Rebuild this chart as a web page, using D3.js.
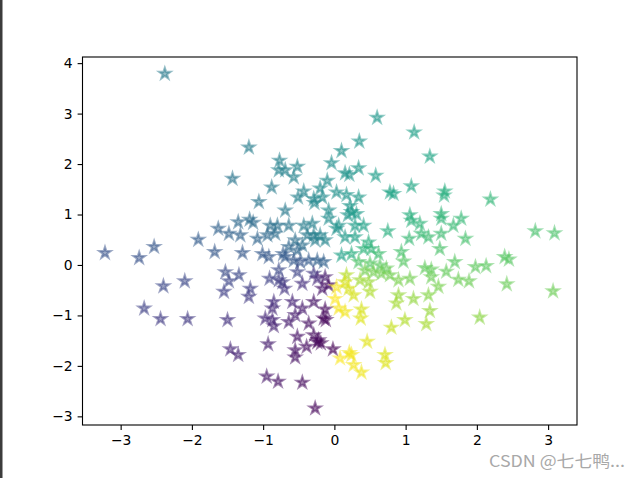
<!DOCTYPE html>
<html><head><meta charset="utf-8">
<script src="https://cdn.jsdelivr.net/npm/d3@7"></script>
<style>body{margin:0;background:#fff}svg{display:block}</style>
</head><body>
<script>
const xs = [-2.38,-1.20,-1.43,-0.77,-0.78,-0.69,-0.52,-0.57,-0.04,-0.10,0.60,1.12,0.35,0.10,1.34,0.15,0.21,0.34,0.58,
-3.22,-2.74,-2.53,-1.91,-2.40,-2.10,-2.67,-2.44,-2.06,
2.19,1.78,1.84,2.82,3.09,1.98,2.13,2.39,2.45,1.74,1.89,2.42,3.07,2.04,
0.06,0.15,0.38,0.37,1.34,0.99,0.80,1.29,0.46,-0.02,0.21,0.24,0.08,0.27,0.38,0.71,0.72,
-1.50,-0.97,-0.87,-0.85,-0.87,-0.64,-0.55,-0.45,-0.36,-0.15,-0.13,-0.12,
-0.52,-0.39,-0.55,-0.55,-0.29,-0.22,-0.24,-0.19,-0.93,-1.46,-1.35,-0.95,-0.79,-0.45,-0.27,
-0.88,-0.43,-0.20,-0.51,-0.29,-0.17,-0.28,-1.06,-0.69,-0.08,-1.63,-1.48,-1.35,-1.32,-1.19,-1.14,
-0.90,-0.80,-0.83,-0.94,-1.08,-0.64,-0.43,-0.31,-0.38,-0.29,-0.27,-0.13,-0.20,-0.08,-0.55,-0.45,
-0.64,-0.72,-0.69,-1.01,-0.92,-1.29,-1.68,-0.52,-0.36,-0.48,-0.57,-0.24,-0.15,-0.78,-0.78,-0.52,
-0.29,-0.24,-0.13,-0.08,-0.17,-1.53,-1.48,-1.34,-1.55,-1.18,-1.20,-0.91,-0.73,-0.70,-0.45,-0.85,
-0.59,-0.29,
0.17,0.34,0.78,0.83,1.08,1.55,1.54,0.22,0.24,0.19,0.31,1.06,1.08,1.20,1.50,1.50,1.67,0.75,1.22,
1.32,1.50,1.05,1.48,0.94,0.97,1.69,1.27,1.36,1.57,1.36,1.06,1.46,1.32,1.11,0.90,0.87,
0.03,0.06,0.29,0.41,0.15,0.29,0.48,0.52,0.41,0.62,0.24,0.10,0.34,0.50,0.64,0.73,0.43,0.55,0.66,
0.78,0.17,0.36,0.48,0.90,0.15,0.03,0.20,0.50,0.01,0.27,0.03];
const ys = [3.79,2.33,1.71,2.07,1.88,1.88,1.95,1.74,2.02,1.67,2.92,2.63,2.45,2.26,2.15,1.82,1.79,1.92,1.77,
0.24,0.14,0.36,0.50,-0.42,-0.32,-0.86,-1.07,-1.07,
1.30,0.92,0.52,0.67,0.63,-0.04,-0.02,0.16,0.11,-0.29,-0.32,-0.38,-0.52,-1.04,
-0.86,-0.93,-0.88,-1.06,-0.91,-1.09,-1.24,-1.17,-1.52,-1.67,-1.74,-1.78,-1.85,-1.98,-2.13,-1.78,-1.94,
-1.09,-1.06,-1.09,-1.21,-0.86,-1.13,-0.99,-0.86,-1.16,-1.06,-0.88,-1.09,
-1.42,-1.62,-1.69,-1.83,-1.39,-1.49,-1.53,-1.55,-1.57,-1.67,-1.78,-2.21,-2.31,-2.33,-2.84,
1.54,1.46,1.52,1.34,1.31,1.34,1.23,1.25,1.08,1.08,0.72,0.62,0.85,0.59,0.90,0.84,
0.78,0.78,0.62,0.59,0.52,0.78,0.78,0.82,0.59,0.59,0.49,0.49,0.59,0.92,0.49,0.39,
0.36,0.22,0.16,0.22,0.16,0.24,0.26,0.29,0.09,0.06,0.09,0.09,0.06,-0.10,-0.30,-0.14,
-0.17,-0.27,-0.24,-0.40,-0.47,-0.14,-0.32,-0.20,-0.53,-0.47,-0.63,-0.27,-0.34,-0.47,-0.37,-0.73,
-0.73,-0.73,
1.39,1.34,1.44,1.41,1.56,1.46,1.38,1.17,1.05,0.99,1.01,0.99,0.88,0.82,1.01,0.92,0.78,0.67,0.62,
0.55,0.62,0.52,0.32,0.26,0.07,0.06,-0.06,-0.09,-0.13,-0.24,-0.27,-0.43,-0.60,-0.67,-0.60,-0.76,
1.44,0.78,0.78,0.78,0.55,0.55,0.45,0.32,0.32,0.22,0.22,0.19,0.06,0.03,-0.01,-0.07,-0.11,-0.14,-0.17,
-0.20,-0.20,-0.30,-0.34,-0.30,-0.34,-0.44,-0.47,-0.53,-0.67,-0.60,0.72];
const xTicks = [-3,-2,-1,0,1,2,3];
const yTicks = [-3,-2,-1,0,1,2,3,4];
const watermark = "CSDN @七七鸭...";

const W = 641, H = 478;
const L = 82.5, R = 577, T = 57, B = 425;
const svg = d3.select("body").append("svg").attr("width", W).attr("height", H);
svg.append("rect").attr("width", W).attr("height", H).attr("fill", "#fff");
svg.append("rect").attr("x", 0).attr("y", 0).attr("width", 2.5).attr("height", H).attr("fill", "#3c3c3c");

const pts = xs.map((x, i) => ({x, y: ys[i], t: Math.atan2(x, ys[i])}));
const pad = (e) => { const d = e[1]-e[0]; return [e[0]-0.05*d, e[1]+0.05*d]; };
const x = d3.scaleLinear().domain(pad(d3.extent(xs))).range([L, R]);
const y = d3.scaleLinear().domain(pad(d3.extent(ys))).range([B, T]);
const c = d3.scaleSequential(d3.interpolateViridis).domain(d3.extent(pts, d => d.t));

const star = d3.symbol().type(d3.symbolStar).size(40)();
svg.append("g").selectAll("path").data(pts).join("path")
  .attr("d", star)
  .attr("transform", d => `translate(${x(d.x)},${y(d.y)})`)
  .attr("fill", d => c(d.t)).attr("fill-opacity", 0.5)
  .attr("stroke", d => c(d.t)).attr("stroke-opacity", 0.5).attr("stroke-width", 2.08)
  .attr("stroke-linejoin", "miter");

const fmt = v => (v < 0 ? "\u2212" + Math.abs(v) : String(v));
const gx = svg.append("g").attr("transform", `translate(0,${B})`)
  .call(d3.axisBottom(x).tickValues(xTicks).tickFormat(fmt).tickSize(4.9).tickPadding(4.9));
const gy = svg.append("g").attr("transform", `translate(${L},0)`)
  .call(d3.axisLeft(y).tickValues(yTicks).tickFormat(fmt).tickSize(4.9).tickPadding(4.9));
[gx, gy].forEach(g => {
  g.select(".domain").remove();
  g.selectAll("line").attr("stroke", "#000").attr("stroke-width", 1.1);
  g.selectAll("text").attr("font-family", "DejaVu Sans").attr("font-size", "13.9px").attr("fill", "#000");
});
svg.append("rect").attr("x", L).attr("y", T).attr("width", R-L).attr("height", B-T)
  .attr("fill", "none").attr("stroke", "#000").attr("stroke-width", 1.1);

svg.append("text").attr("x", 489).attr("y", 467)
  .attr("font-family", "Noto Sans CJK SC, sans-serif").attr("font-size", "16px")
  .attr("textLength", 136).attr("lengthAdjust", "spacingAndGlyphs")
  .attr("fill", "#a8a8a8").text(watermark);
</script>
</body></html>
